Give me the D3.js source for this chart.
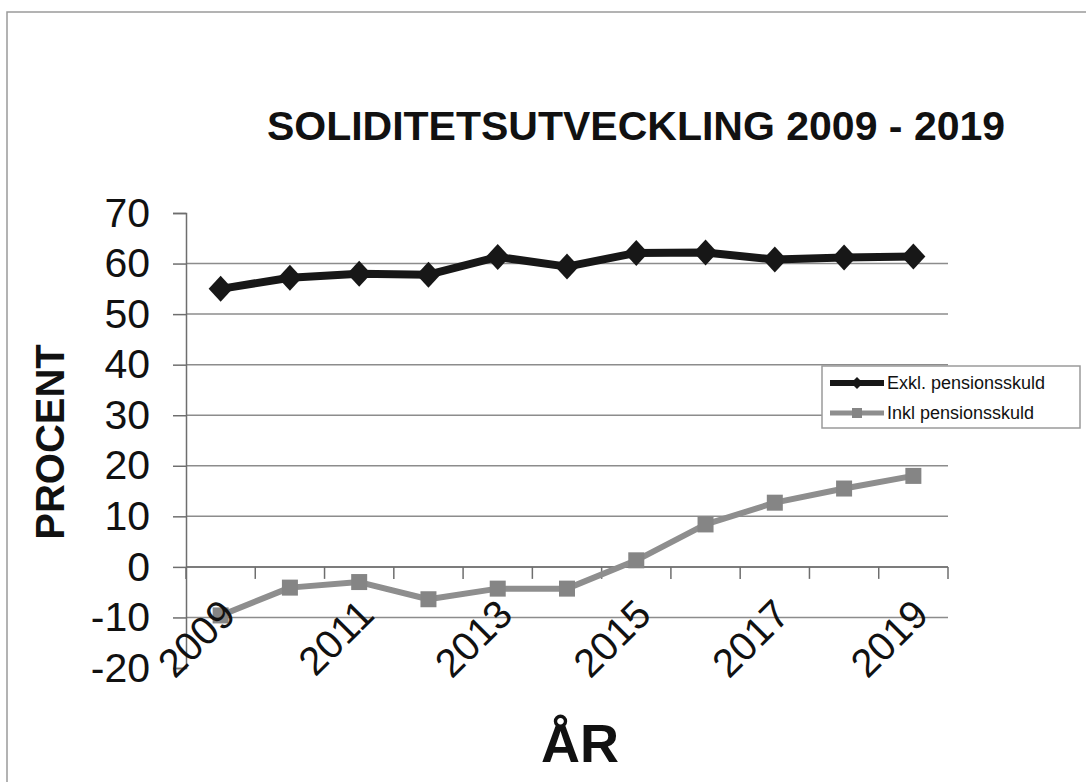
<!DOCTYPE html>
<html>
<head>
<meta charset="utf-8">
<script src="https://cdn.jsdelivr.net/npm/d3@7"></script>
<style>
  html, body { margin: 0; padding: 0; background: #fff; }
  svg { display: block; font-family: "Liberation Sans", Arial, sans-serif; }
</style>
</head>
<body>
<div id="chart"></div>
<script>
const years = ['2009', '2010', '2011', '2012', '2013', '2014', '2015', '2016', '2017', '2018', '2019'];
const exklPension = [55.0, 57.2, 58.0, 57.8, 61.3, 59.4, 62.1, 62.2, 60.8, 61.2, 61.4];
const inklPension = [-9.6, -4.1, -3.0, -6.4, -4.3, -4.3, 1.3, 8.4, 12.7, 15.5, 18.0];
const yTicks = [-20, -10, 0, 10, 20, 30, 40, 50, 60, 70];
const gridValues = [-10, 0, 10, 20, 30, 40, 50, 60];
const xLabelYears = ['2009', '2011', '2013', '2015', '2017', '2019'];
const seriesNames = ['Exkl. pensionsskuld', 'Inkl pensionsskuld'];

const width = 1086, height = 782;
const plot = { left: 186, right: 948, top: 213, bottom: 668 };

const svg = d3.select('#chart')
  .append('svg')
  .attr('width', width)
  .attr('height', height);

// outer frame (only top and left edges show in the scan)
svg.append('rect')
  .attr('x', 7).attr('y', 12)
  .attr('width', width + 20).attr('height', height + 20)
  .attr('fill', 'none')
  .attr('stroke', '#9a9a9a')
  .attr('stroke-width', 1.5);

const x = d3.scaleBand()
  .domain(years)
  .range([plot.left, plot.right]);

const y = d3.scaleLinear()
  .domain([-20, 70])
  .range([plot.bottom, plot.top]);

// gridlines
svg.append('g')
  .selectAll('line')
  .data(gridValues)
  .enter()
  .append('line')
  .attr('x1', plot.left)
  .attr('x2', plot.right)
  .attr('y1', d => y(d))
  .attr('y2', d => y(d))
  .attr('stroke', '#8c8c8c')
  .attr('stroke-width', 1.5);

// y axis
const yAxis = svg.append('g')
  .attr('transform', `translate(${plot.left},0)`)
  .call(d3.axisLeft(y).tickValues(yTicks).tickSize(13).tickPadding(23).tickFormat(d => String(d)));
yAxis.select('.domain').attr('stroke', '#6e6e6e').attr('stroke-width', 1.5);
yAxis.selectAll('.tick line').attr('stroke', '#6e6e6e').attr('stroke-width', 1.5);
yAxis.selectAll('.tick text')
  .attr('font-size', 41)
  .attr('fill', '#111')
  .attr('font-family', '"Liberation Sans", Arial, sans-serif');

// x axis at zero, ticks between categories
const xAxis = svg.append('g')
  .attr('transform', `translate(0,${y(0)})`);
xAxis.append('line')
  .attr('x1', plot.left).attr('x2', plot.right)
  .attr('stroke', '#6e6e6e').attr('stroke-width', 1.5);
xAxis.selectAll('.xtick')
  .data(years.concat(['end']))
  .enter()
  .append('line')
  .attr('class', 'xtick')
  .attr('x1', d => d === 'end' ? plot.right : x(d))
  .attr('x2', d => d === 'end' ? plot.right : x(d))
  .attr('y1', 0).attr('y2', 12)
  .attr('stroke', '#6e6e6e').attr('stroke-width', 1.5);

// series lines
const line = values => d3.line()
  .x((d, i) => x(years[i]) + x.bandwidth() / 2)
  .y(d => y(d))(values);

svg.append('path')
  .attr('d', line(inklPension))
  .attr('fill', 'none')
  .attr('stroke', '#8e8e8e')
  .attr('stroke-width', 6)
  .attr('stroke-linejoin', 'round');

svg.selectAll('.sq')
  .data(inklPension)
  .enter()
  .append('rect')
  .attr('class', 'sq')
  .attr('x', (d, i) => x(years[i]) + x.bandwidth() / 2 - 8)
  .attr('y', d => y(d) - 8)
  .attr('width', 16).attr('height', 16)
  .attr('fill', '#858585');

svg.append('path')
  .attr('d', line(exklPension))
  .attr('fill', 'none')
  .attr('stroke', '#171717')
  .attr('stroke-width', 8)
  .attr('stroke-linejoin', 'round');

const diamond = (w, h) => `M0,${-h}L${w},0L0,${h}L${-w},0Z`;

svg.selectAll('.dm')
  .data(exklPension)
  .enter()
  .append('path')
  .attr('class', 'dm')
  .attr('d', diamond(12, 13))
  .attr('transform', (d, i) => `translate(${x(years[i]) + x.bandwidth() / 2},${y(d)})`)
  .attr('fill', '#171717');

// x labels, rotated
svg.selectAll('.xlabel')
  .data(xLabelYears)
  .enter()
  .append('text')
  .attr('class', 'xlabel')
  .attr('transform', d => `translate(${x(d) + x.bandwidth() / 2 + 17},${y(0) + 50}) rotate(-45)`)
  .attr('text-anchor', 'end')
  .attr('font-size', 40)
  .attr('fill', '#111')
  .text(d => d);

// titles
svg.append('text')
  .attr('x', 636).attr('y', 140)
  .attr('text-anchor', 'middle')
  .attr('font-size', 41)
  .attr('font-weight', 'bold')
  .attr('fill', '#111')
  .text('SOLIDITETSUTVECKLING 2009 - 2019');

svg.append('text')
  .attr('transform', 'translate(64,442) rotate(-90)')
  .attr('text-anchor', 'middle')
  .attr('font-size', 40)
  .attr('font-weight', 'bold')
  .attr('fill', '#111')
  .text('PROCENT');

svg.append('text')
  .attr('x', 580).attr('y', 762)
  .attr('text-anchor', 'middle')
  .attr('font-size', 54)
  .attr('font-weight', 'bold')
  .attr('fill', '#111')
  .text('ÅR');

// legend
const legend = svg.append('g').attr('transform', 'translate(822,366)');
legend.append('rect')
  .attr('width', 258).attr('height', 62)
  .attr('fill', '#fff')
  .attr('stroke', '#9a9a9a')
  .attr('stroke-width', 1.5);

const legendColors = ['#171717', '#8e8e8e'];
seriesNames.forEach((name, i) => {
  const g = legend.append('g').attr('transform', `translate(0,${17 + i * 30})`);
  g.append('line')
    .attr('x1', 8).attr('x2', 62)
    .attr('stroke', legendColors[i])
    .attr('stroke-width', i === 0 ? 6 : 5);
  if (i === 0) {
    g.append('path').attr('d', diamond(6, 6)).attr('transform', 'translate(35,0)').attr('fill', legendColors[i]);
  } else {
    g.append('rect').attr('x', 30).attr('y', -5).attr('width', 10).attr('height', 10).attr('fill', '#858585');
  }
  g.append('text')
    .attr('x', 65).attr('y', 6)
    .attr('font-size', 18)
    .attr('fill', '#111')
    .text(name);
});
</script>
</body>
</html>
